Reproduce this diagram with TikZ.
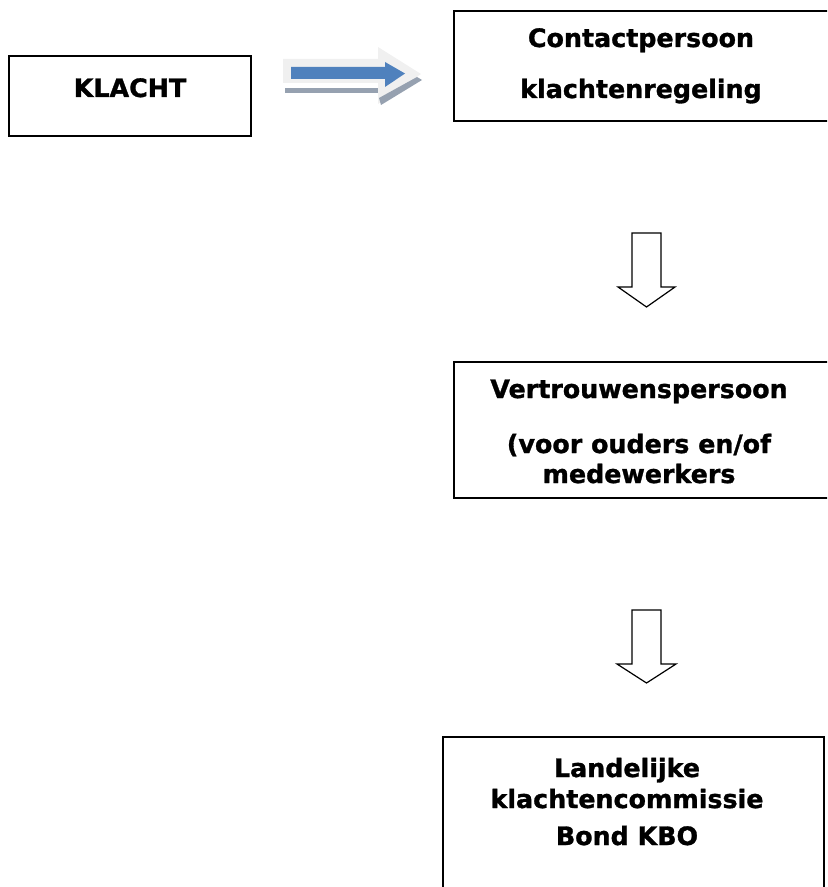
\documentclass[tikz,border=0pt]{standalone}
\usepackage{fontspec}
\setmainfont{DejaVu Sans}[BoldFeatures={FakeBold=1.2}]
\usetikzlibrary{arrows}

\definecolor{arrowblue}{RGB}{79,129,189}
\definecolor{arrowpale}{RGB}{240,240,240}
\definecolor{arrowshade}{RGB}{150,161,176}

\tikzset{
  frame/.style={line width=1.3pt},
  dnarrow/.style={line width=0.9pt, fill=white},
  txt/.style={anchor=base, inner sep=0.75pt, font=\bfseries\fontsize{19}{22}\selectfont}
}

\begin{document}
\begin{tikzpicture}[x=0.75pt,y=0.75pt,yscale=-1,xscale=1]
\useasboundingbox (0,0) rectangle (827,887);
\clip (0,0) rectangle (827,887);

%Shape: Rectangle [id:klacht]
\draw [frame] (9,56) rectangle (251,136);
%Shape: Rectangle [id:contact]
\draw [frame] (454,11) rectangle (845,121);
%Shape: Rectangle [id:vertrouwen]
\draw [frame] (454,362) rectangle (845,498);
%Shape: Rectangle [id:landelijk]
\draw [frame] (443,737) rectangle (824,900);

%Right Arrow [id:pale]
\fill [arrowpale] (283,59) -- (378,59) -- (378,47) -- (421,74) -- (378,104) -- (378,83) -- (283,83) -- cycle ;
%Right Arrow [id:shade]
\fill [arrowshade] (285,88) -- (378,88) -- (378,93) -- (285,93) -- cycle ;
\fill [arrowshade] (379,98) -- (417,77) -- (422,80) -- (381,105) -- cycle ;
%Right Arrow [id:blue]
\fill [arrowblue] (291,67) -- (385,67) -- (385,62) -- (405,73.5) -- (385,87) -- (385,79) -- (291,79) -- cycle ;

%Down Arrow [id:down1]
\draw [dnarrow] (632,233) -- (661,233) -- (661,287) -- (675,287) -- (646.5,307) -- (618,287) -- (632,287) -- cycle ;
%Down Arrow [id:down2]
\draw [dnarrow] (632,610) -- (661,610) -- (661,664) -- (676,664) -- (646.5,683) -- (617,664) -- (632,664) -- cycle ;

% Text Node
\draw (130,97) node [txt] (klacht) {KLACHT};
% Text Node
\draw (641,47) node [txt] (contact) {Contactpersoon};
% Text Node
\draw (641,98) node [txt] (regeling) {klachtenregeling};
% Text Node
\draw (639,398) node [txt] (vertrouwen) {Vertrouwenspersoon};
% Text Node
\draw (639,453) node [txt] (ouders) {(voor ouders en/of};
% Text Node
\draw (639,483) node [txt] (medewerkers) {medewerkers};
% Text Node
\draw (627,777) node [txt] (landelijk) {Landelijke};
% Text Node
\draw (627,808) node [txt] (commissie) {klachtencommissie};
% Text Node
\draw (627,845) node [txt] (bond) {Bond KBO};

\end{tikzpicture}
\end{document}
